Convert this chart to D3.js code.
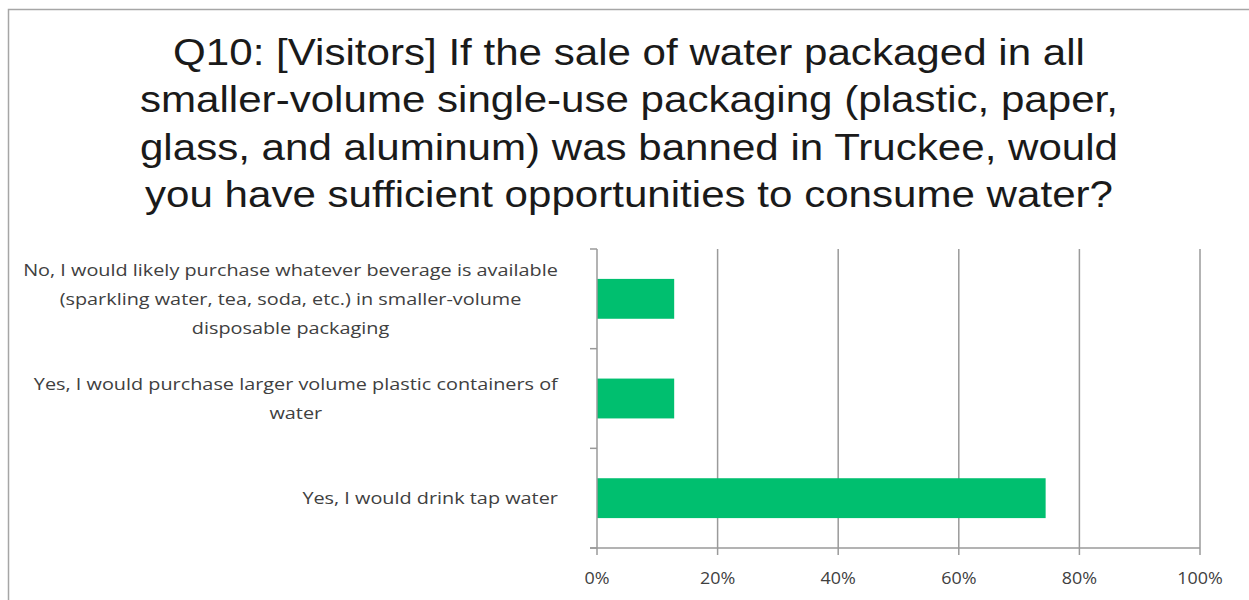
<!DOCTYPE html>
<html><head><meta charset="utf-8">
<script src="https://cdn.jsdelivr.net/npm/d3@7"></script>
<style>body{margin:0;background:#fff}svg{display:block}</style>
</head><body>
<svg id="c" width="1249" height="600"></svg>
<script>
const titleLines = [
  "Q10: [Visitors] If the sale of water packaged in all",
  "smaller-volume single-use packaging (plastic, paper,",
  "glass, and aluminum) was banned in Truckee, would",
  "you have sufficient opportunities to consume water?"
];
const categories = [
  ["No, I would likely purchase whatever beverage is available", "(sparkling water, tea, soda, etc.) in smaller-volume", "disposable packaging"],
  ["Yes, I would purchase larger volume plastic containers of", "water"],
  ["Yes, I would drink tap water"]
];
const values = [0.128, 0.128, 0.744];
const tickValues = [0, 0.2, 0.4, 0.6, 0.8, 1.0];

const svg = d3.select("#c");
svg.append("rect").attr("x", 8.5).attr("y", 9.5).attr("width", 1260).attr("height", 620)
  .attr("fill", "#fff").attr("stroke", "#a6a6a6").attr("stroke-width", 1.5);

// horizontally stretched text helper
function stretch(sel, cx, targetW, measureNode) {
  const w = measureNode.getComputedTextLength();
  const k = targetW / w;
  sel.attr("transform", `translate(${cx},0) scale(${k},1) translate(${-cx},0)`);
  return k;
}

const tg = svg.append("g");
const tt = tg.selectAll("text").data(titleLines).join("text")
  .attr("x", 629).attr("y", (d, i) => 65 + i * 47.3)
  .attr("text-anchor", "middle")
  .attr("font-family", "Liberation Sans, Arial, sans-serif")
  .attr("font-size", 37).attr("fill", "#1a1a1a").text(d => d);
stretch(tg, 629, 912, tt.nodes()[0]);

const x = d3.scaleLinear().domain([0, 1]).range([597, 1200]);
const y = d3.scaleBand().domain(d3.range(categories.length)).range([249, 548]).paddingInner(0.6).paddingOuter(0.3);
const yOuter = d3.scaleBand().domain(d3.range(categories.length)).range([249, 548]);

// gridlines
svg.append("g").selectAll("line").data(tickValues.slice(1)).join("line")
  .attr("x1", d => x(d)).attr("x2", d => x(d)).attr("y1", 249).attr("y2", 548)
  .attr("stroke", "#9a9a9a").attr("stroke-width", 1.5);

// bars
svg.append("g").selectAll("rect").data(values).join("rect")
  .attr("x", x(0)).attr("y", (d, i) => y(i)).attr("width", d => x(d) - x(0)).attr("height", y.bandwidth())
  .attr("fill", "#00bf6f");

// y axis
const ya = svg.append("g").attr("stroke", "#9a9a9a").attr("stroke-width", 1.5);
ya.append("line").attr("x1", 597).attr("x2", 597).attr("y1", 249).attr("y2", 548);
const ytickPos = d3.range(categories.length).map(i => yOuter(i)).concat([548]);
ya.selectAll("line.t").data(ytickPos).join("line").attr("class", "t")
  .attr("x1", 590).attr("x2", 597).attr("y1", d => d).attr("y2", d => d);

// x axis
const xa = svg.append("g").attr("stroke", "#9a9a9a").attr("stroke-width", 1.5);
xa.append("line").attr("x1", 590).attr("x2", 1200).attr("y1", 548).attr("y2", 548);
xa.selectAll("line.t").data(tickValues).join("line").attr("class", "t")
  .attr("x1", d => x(d)).attr("x2", d => x(d)).attr("y1", 548).attr("y2", 555);

// tick labels
const tl = svg.append("g");
const tls = tl.selectAll("g").data(tickValues).join("g");
tls.each(function (d) {
  const g = d3.select(this);
  const t = g.append("text").attr("x", x(d)).attr("y", 584).attr("text-anchor", "middle")
    .attr("font-family", "Open Sans, sans-serif").attr("font-size", 16).attr("fill", "#404040")
    .text(d3.format(".0%")(d));
  g.attr("transform", `translate(${x(d)},0) scale(1.12,1) translate(${-x(d)},0)`);
});

// category labels
const lineH = 29;
const lg = svg.append("g").attr("font-family", "Open Sans, sans-serif").attr("font-size", 16).attr("fill", "#404040");
let kLab = null;
categories.forEach((lines, i) => {
  const cy = yOuter(i) + yOuter.bandwidth() / 2;
  const g = lg.append("g");
  const texts = g.selectAll("text").data(lines).join("text")
    .attr("y", (d, j) => cy + (j - (lines.length - 1) / 2) * lineH + 6)
    .attr("text-anchor", "middle").text(d => d);
  let maxW = 0;
  texts.each(function () { maxW = Math.max(maxW, this.getComputedTextLength()); });
  if (kLab === null) kLab = 535 / maxW;
  const right = 558;
  const cx = right - maxW * kLab / 2;
  texts.attr("x", cx);
  g.attr("transform", `translate(${cx},0) scale(${kLab},1) translate(${-cx},0)`);
});
</script>
</body></html>
